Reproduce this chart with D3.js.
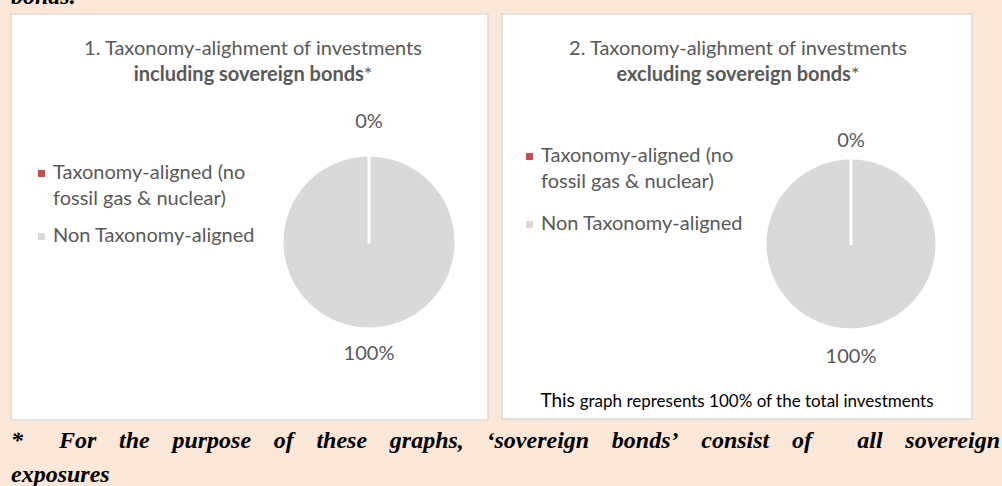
<!DOCTYPE html>
<html>
<head>
<meta charset="utf-8">
<script src="https://cdn.jsdelivr.net/npm/d3@7"></script>
<style>
  html, body { margin: 0; padding: 0; background: #fae7d7; }
  svg { display: block; }
</style>
</head>
<body>
<svg id="chart" width="1002" height="486"></svg>
<script>
// data
const categories = ["Taxonomy-aligned (no fossil gas & nuclear)", "Non Taxonomy-aligned"];
const legendLines = [["Taxonomy-aligned (no", "fossil gas & nuclear)"], ["Non Taxonomy-aligned"]];
const inclSovereign = [0, 100];
const exclSovereign = [0, 100];
const chartTitles = [
    ["1. Taxonomy-alighment of investments", "including sovereign bonds"],
    ["2. Taxonomy-alighment of investments", "excluding sovereign bonds"]
];
const footnoteWords = ["For", "the", "purpose", "of", "these", "graphs,", "\u2018sovereign", "bonds\u2019", "consist", "of", "", "all", "sovereign"];

const svg = d3.select("#chart");
const color = d3.scaleOrdinal().domain(categories).range(["#c0504d", "#d9d9d9"]);
const textGrey = "#595959";
const sans = "Lato, 'Open Sans', sans-serif";
const serif = "'Liberation Serif', 'DejaVu Serif', serif";

// cut off line from the text above
svg.append("text")
    .attr("x", 11).attr("y", 4)
    .attr("font-family", serif).attr("font-style", "italic").attr("font-weight", "bold")
    .attr("font-size", 24).attr("fill", "#000")
    .text("bonds.");

const panels = [
    { x: 11, y: 14, w: 477, h: 406, cx: 369, cy: 242, r: 87, tx: 253, lx: 38, ly: [179, 205, 242], r0: 121, r1: 111, values: inclSovereign },
    { x: 502, y: 14, w: 470, h: 405, cx: 851, cy: 244, r: 86, tx: 738, lx: 526, ly: [162, 188, 230], r0: 104, r1: 112, values: exclSovereign }
];

const pie = d3.pie().sort(null).value((d) => d);

panels.forEach((p, i) => {
    const g = svg.append("g");
    g.append("rect")
        .attr("x", p.x).attr("y", p.y).attr("width", p.w).attr("height", p.h)
        .attr("fill", "#fff").attr("stroke", "#d9d9d9").attr("stroke-width", 1.5);

    // title
    const t = g.append("text")
        .attr("text-anchor", "middle").attr("font-family", sans).attr("font-size", 20).attr("fill", textGrey);
    t.append("tspan").attr("x", p.tx).attr("y", 55).text(chartTitles[i][0]);
    const t2 = t.append("tspan").attr("x", p.tx).attr("y", 81);
    t2.append("tspan").attr("font-weight", "bold").text(chartTitles[i][1]);
    t2.append("tspan").text("*");

    // legend
    let row = 0;
    legendLines.forEach((lines, k) => {
        g.append("rect")
            .attr("x", p.lx).attr("y", p.ly[row] - 9).attr("width", 7).attr("height", 7)
            .attr("fill", color(categories[k]));
        lines.forEach((line) => {
            g.append("text")
                .attr("x", p.lx + 15).attr("y", p.ly[row])
                .attr("font-family", sans).attr("font-size", 20).attr("fill", textGrey)
                .text(line);
            row++;
        });
    });

    // pie
    const arcs = pie(p.values);
    const arc = d3.arc().innerRadius(0).outerRadius(p.r);
    const pg = g.append("g").attr("transform", `translate(${p.cx},${p.cy})`);
    pg.selectAll("path")
        .data(arcs)
        .join("path")
        .attr("d", arc)
        .attr("fill", (d, k) => color(categories[k]))
        .attr("stroke", "#fff").attr("stroke-width", 3).attr("stroke-linejoin", "round");
    // the empty slice's border must stay visible on top
    pg.selectAll("path").filter((d) => d.value === 0).raise();

    // data labels outside end
    const labelR = [p.r0, p.r1];
    pg.selectAll("text")
        .data(arcs)
        .join("text")
        .attr("transform", (d, k) => {
            const a = (d.startAngle + d.endAngle) / 2;
            return `translate(${Math.sin(a) * labelR[k]},${-Math.cos(a) * labelR[k]})`;
        })
        .attr("text-anchor", "middle").attr("dy", "0.35em")
        .attr("font-family", sans).attr("font-size", 20).attr("fill", textGrey)
        .text((d) => d.data + "%");
});

// note inside second panel
const note = svg.append("text")
    .attr("x", 737).attr("y", 407).attr("text-anchor", "middle")
    .attr("font-family", sans).attr("fill", "#000");
note.append("tspan").attr("font-size", 19).text("This ");
note.append("tspan").attr("font-size", 17).text("graph represents 100% of the total investments");

// justified footnote
const fn = svg.append("g")
    .attr("font-family", serif).attr("font-style", "italic").attr("font-weight", "bold")
    .attr("font-size", 24).attr("fill", "#000");
fn.append("text").attr("x", 11).attr("y", 448).text("*");
const wordNodes = footnoteWords.map((w) => fn.append("text").attr("y", 448).text(w));
const widths = wordNodes.map((n) => n.node().getComputedTextLength());
const startX = 59, endX = 1000;
const gaps = footnoteWords.length - 1;
const gap = (endX - startX - d3.sum(widths)) / gaps;
let cur = startX;
wordNodes.forEach((n, k) => {
    n.attr("x", cur);
    cur += widths[k] + gap;
});
fn.append("text").attr("x", 11).attr("y", 482).text("exposures");
</script>
</body>
</html>
